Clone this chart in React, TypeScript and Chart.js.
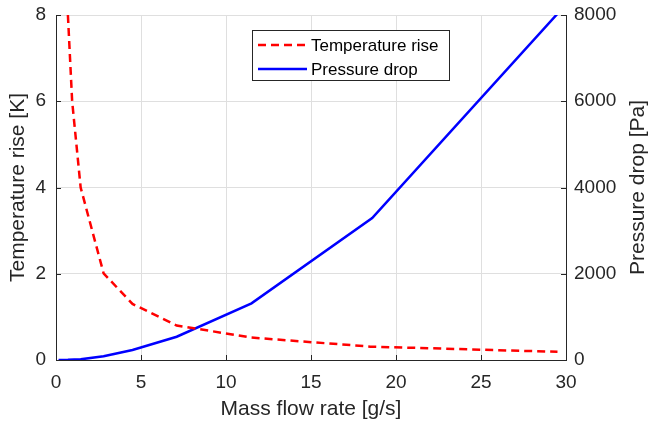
import React, { useEffect, useRef } from "react";
import { Chart, registerables } from "chart.js";

Chart.register(...registerables);

// ---- data ----
const tempFlow = [0.7, 0.95, 1.45, 2.8, 4.5, 7.1, 11.5, 18.5, 29.5];
const tempRise = [8.0, 6.0, 4.0, 2.01, 1.3, 0.8, 0.52, 0.31, 0.19];

const pressFlow = [0.15, 0.7, 1.45, 2.8, 4.5, 7.1, 11.5, 18.6, 29.5];
const pressDrop = [0, 3, 16, 85, 232, 540, 1315, 3290, 8030];

const xTitle = "Mass flow rate [g/s]";
const yLeftTitle = "Temperature rise [K]";
const yRightTitle = "Pressure drop [Pa]";
const seriesNames = ["Temperature rise", "Pressure drop"];

const FONT = "'Liberation Sans', Arial, Helvetica, sans-serif";
const AXIS = "#262626";
const GRID = "#dfdfdf";

const decorPlugin = {
  id: "decor",
  afterDraw(chart: any) {
    const ctx = chart.ctx;
    const ca = chart.chartArea;
    const xs = chart.scales.x;
    const ys = chart.scales.y;
    const y1 = chart.scales.y1;
    ctx.save();
    // inward tick marks
    ctx.strokeStyle = AXIS;
    ctx.lineWidth = 1;
    ctx.beginPath();
    xs.ticks.forEach((t: any) => {
      const px = Math.round(xs.getPixelForValue(t.value)) + 0.5;
      ctx.moveTo(px, ca.bottom);
      ctx.lineTo(px, ca.bottom - 5);
    });
    ys.ticks.forEach((t: any) => {
      const py = Math.round(ys.getPixelForValue(t.value)) + 0.5;
      ctx.moveTo(ca.left, py);
      ctx.lineTo(ca.left + 5, py);
    });
    y1.ticks.forEach((t: any) => {
      const py = Math.round(y1.getPixelForValue(t.value)) + 0.5;
      ctx.moveTo(ca.right, py);
      ctx.lineTo(ca.right - 5, py);
    });
    ctx.stroke();

    // right axis title (reads bottom-to-top)
    ctx.fillStyle = AXIS;
    ctx.font = `21px ${FONT}`;
    ctx.textAlign = "center";
    ctx.textBaseline = "middle";
    ctx.save();
    ctx.translate(638, (ca.top + ca.bottom) / 2);
    ctx.rotate(-Math.PI / 2);
    ctx.fillText(yRightTitle, 0, 0);
    ctx.restore();

    // legend box
    const lx = 252.5, ly = 30.5, lw = 197, lh = 50;
    ctx.fillStyle = "#ffffff";
    ctx.fillRect(lx, ly, lw, lh);
    ctx.strokeStyle = AXIS;
    ctx.lineWidth = 1;
    ctx.strokeRect(lx, ly, lw, lh);
    const rows = [45, 69];
    chart.data.datasets.forEach((ds: any, i: number) => {
      const yy = rows[i];
      ctx.save();
      ctx.strokeStyle = ds.borderColor;
      ctx.lineWidth = ds.borderWidth;
      ctx.setLineDash(ds.borderDash || []);
      ctx.beginPath();
      ctx.moveTo(258, yy);
      ctx.lineTo(307, yy);
      ctx.stroke();
      ctx.restore();
      ctx.fillStyle = "#000000";
      ctx.font = `17px ${FONT}`;
      ctx.textAlign = "left";
      ctx.textBaseline = "middle";
      ctx.fillText(ds.label, 311, yy + 1);
    });
    ctx.restore();
  },
};

const plainTick = (v: any) => String(v);

export default function App() {
  const ref = useRef<HTMLCanvasElement>(null);
  useEffect(() => {
    if (!ref.current) return;
    const chart = new Chart(ref.current, {
      type: "line",
      data: {
        datasets: [
          {
            label: seriesNames[0],
            data: tempFlow.map((x, i) => ({ x, y: tempRise[i] })),
            borderColor: "#ff0000",
            borderWidth: 2.5,
            borderDash: [8, 5],
            pointRadius: 0,
            tension: 0,
            yAxisID: "y",
          },
          {
            label: seriesNames[1],
            data: pressFlow.map((x, i) => ({ x, y: pressDrop[i] })),
            borderColor: "#0000ff",
            borderWidth: 2.5,
            pointRadius: 0,
            tension: 0,
            yAxisID: "y1",
          },
        ],
      },
      options: {
        responsive: false,
        animation: false,
        devicePixelRatio: 1,
        layout: { padding: { top: 15, left: 0, right: 0, bottom: 0 } },
        plugins: { legend: { display: false }, tooltip: { enabled: false } },
        scales: {
          x: {
            type: "linear",
            min: 0,
            max: 30,
            ticks: { stepSize: 5, color: AXIS, font: { size: 19, family: FONT }, padding: 11, maxRotation: 0, callback: plainTick },
            grid: { color: GRID, drawTicks: false },
            border: { color: AXIS, width: 1 },
            title: { display: true, text: xTitle, color: AXIS, font: { size: 21, family: FONT }, padding: { top: 0, bottom: 2 } },
            afterFit: (s: any) => { s.height = 64; s.paddingLeft = 0; s.paddingRight = 0; },
          },
          y: {
            type: "linear",
            position: "left",
            min: 0,
            max: 8,
            ticks: { stepSize: 2, color: AXIS, font: { size: 19, family: FONT }, padding: 10, callback: plainTick },
            grid: { color: GRID, drawTicks: false },
            border: { color: AXIS, width: 1 },
            title: { display: true, text: yLeftTitle, color: AXIS, font: { size: 21, family: FONT }, padding: { top: 6, bottom: 0 } },
            afterFit: (s: any) => { s.width = 56; s.paddingTop = 0; s.paddingBottom = 0; },
          },
          y1: {
            type: "linear",
            position: "right",
            min: 0,
            max: 8000,
            ticks: { stepSize: 2000, color: AXIS, font: { size: 19, family: FONT }, padding: 8, callback: plainTick },
            grid: { display: false, drawTicks: false },
            border: { color: AXIS, width: 1 },
            afterFit: (s: any) => { s.width = 85; s.paddingTop = 0; s.paddingBottom = 0; },
          },
        },
      },
      plugins: [decorPlugin],
    } as any);
    return () => chart.destroy();
  }, []);
  return (
    <div style={{ position: "absolute", left: 0, top: 0, width: 651, height: 424, background: "#fff" }}>
      <canvas ref={ref} width={651} height={424} style={{ display: "block" }} />
    </div>
  );
}
